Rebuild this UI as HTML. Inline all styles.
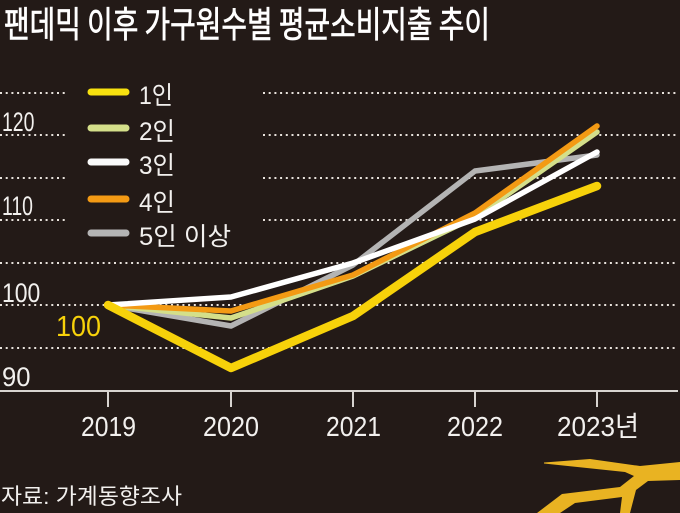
<!DOCTYPE html>
<html>
<head>
<meta charset="utf-8">
<style>
html,body{margin:0;padding:0;background:#231a17;}
svg{display:block;}
text{font-family:"Liberation Sans","Noto Sans CJK KR",sans-serif;}
</style>
</head>
<body>
<svg width="680" height="513" viewBox="0 0 680 513" xmlns="http://www.w3.org/2000/svg">
<rect width="680" height="513" fill="#231a17"/>

<!-- title -->
<text x="4" y="37" font-size="36" fill="#ffffff" stroke="#ffffff" stroke-width="0.7" textLength="486" lengthAdjust="spacingAndGlyphs" style="font-family:'Noto Sans CJK KR',sans-serif">팬데믹 이후 가구원수별 평균소비지출 추이</text>

<!-- dotted grid -->
<g stroke="#e8e2dc" stroke-width="2" stroke-dasharray="2 3.7" fill="none">
  <line x1="0" y1="93" x2="68" y2="93"/><line x1="263" y1="93" x2="676" y2="93"/>
  <line x1="0" y1="135" x2="68" y2="135"/><line x1="263" y1="135" x2="676" y2="135"/>
  <line x1="0" y1="178" x2="68" y2="178"/><line x1="263" y1="178" x2="676" y2="178"/>
  <line x1="0" y1="220" x2="68" y2="220"/><line x1="263" y1="220" x2="676" y2="220"/>
  <line x1="0" y1="263" x2="676" y2="263"/>
  <line x1="0" y1="305" x2="676" y2="305"/>
  <line x1="0" y1="348" x2="676" y2="348"/>
</g>

<!-- axis -->
<line x1="0" y1="391" x2="678" y2="391" stroke="#d8d4d0" stroke-width="2"/>
<g stroke="#d8d4d0" stroke-width="2">
  <line x1="108" y1="391" x2="108" y2="407"/>
  <line x1="231" y1="391" x2="231" y2="407"/>
  <line x1="353" y1="391" x2="353" y2="407"/>
  <line x1="475" y1="391" x2="475" y2="407"/>
  <line x1="597" y1="391" x2="597" y2="407"/>
</g>

<!-- y labels -->
<g fill="#f2f0ee" font-size="27">
  <text transform="translate(2,131) scale(0.72,1)" x="0" y="0">120</text>
  <text transform="translate(2,215) scale(0.72,1)" x="0" y="0">110</text>
  <text transform="translate(2,302) scale(0.85,1)" x="0" y="0">100</text>
  <text transform="translate(2,386) scale(0.95,1)" x="0" y="0">90</text>
</g>

<!-- x labels -->
<g fill="#f2f0ee" font-size="28">
  <text x="81" y="436" textLength="55" lengthAdjust="spacingAndGlyphs">2019</text>
  <text x="203" y="436" textLength="56" lengthAdjust="spacingAndGlyphs">2020</text>
  <text x="326" y="436" textLength="55" lengthAdjust="spacingAndGlyphs">2021</text>
  <text x="447" y="436" textLength="56" lengthAdjust="spacingAndGlyphs">2022</text>
  <text x="557" y="436" textLength="82" lengthAdjust="spacingAndGlyphs">2023년</text>
</g>

<!-- series -->
<g fill="none" stroke-linecap="round" stroke-linejoin="round">
  <polyline points="108,305 231,326 353,265 475,171 597,155" stroke="#b4b4b4" stroke-width="5.5"/>
  <polyline points="108,305 231,318 353,276 475,217 597,132" stroke="#d4df8a" stroke-width="5.5"/>
  <polyline points="108,305 231,311 353,275 475,213 597,126" stroke="#f39a14" stroke-width="5.5"/>
  <polyline points="108,305 231,297 353,263 475,219 597,152" stroke="#ffffff" stroke-width="5.5"/>
  <polyline points="108,305 231,368 353,316 475,232 597,186" stroke="#f7d20a" stroke-width="8.5"/>
</g>

<text x="56" y="336" font-size="29" fill="#f7d20a" textLength="45" lengthAdjust="spacingAndGlyphs">100</text>

<!-- legend -->
<g stroke-linecap="round" stroke-width="7">
  <line x1="91" y1="92" x2="126" y2="92" stroke="#f7e10f"/>
  <line x1="91" y1="128" x2="126" y2="128" stroke="#d4df8a"/>
  <line x1="91" y1="162" x2="126" y2="162" stroke="#fafafa"/>
  <line x1="91" y1="199" x2="126" y2="199" stroke="#f39a14"/>
  <line x1="91" y1="233" x2="126" y2="233" stroke="#b4b4b4"/>
</g>
<g fill="#f2f0ee" font-size="25">
  <text x="139" y="104" textLength="34" lengthAdjust="spacingAndGlyphs">1인</text>
  <text x="139" y="140" textLength="36" lengthAdjust="spacingAndGlyphs">2인</text>
  <text x="139" y="174" textLength="36" lengthAdjust="spacingAndGlyphs">3인</text>
  <text x="139" y="211" textLength="36" lengthAdjust="spacingAndGlyphs">4인</text>
  <text x="139" y="245" textLength="92" lengthAdjust="spacingAndGlyphs">5인 이상</text>
</g>

<!-- source -->
<text x="1" y="504" font-size="22" fill="#f2f0ee" textLength="181" lengthAdjust="spacingAndGlyphs">자료: 가계동향조사</text>

<!-- decorative crack -->
<polygon fill="#e9b322" points="544,462.5 590,459 640,466 680,462 680,480 648,481 636,490 630,513 620,513 622,497 575,503 560,513 537,513 562,494 620,487 634,476 625,472 544,463.5"/>
</svg>
</body>
</html>
